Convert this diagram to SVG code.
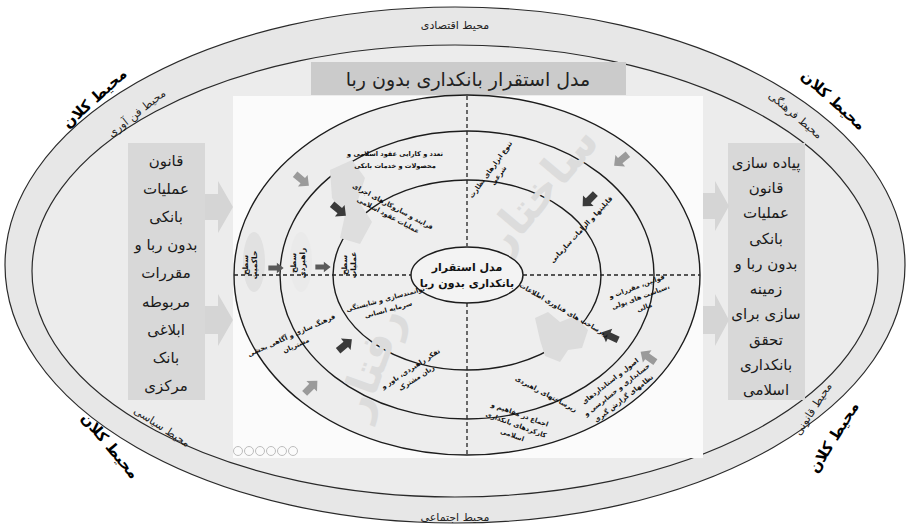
<svg xmlns="http://www.w3.org/2000/svg" width="911" height="529" viewBox="0 0 911 529">
<defs>
<style>
text{font-family:"DejaVu Sans",sans-serif;text-anchor:middle;fill:#111}
.env{font-size:11px;fill:#222}
.macro{font-size:15px;font-weight:bold;fill:#000}
.box{font-size:15px;fill:#1a1a1a}
.s{font-size:6.6px;font-weight:bold}
.lvl{font-size:7.5px;font-weight:bold}
.el{stroke:#1c1c1c;stroke-width:1.4}
.dash{stroke:#222;stroke-width:1.3;stroke-dasharray:4 3;fill:none}
.ad{fill:#3a3a3a}
.al{fill:#9a9a9a}
.am{fill:#5a5a5a}
.wm{font-size:44px;font-weight:bold;fill:#dcdcdc}
</style>
<path id="arr" d="M-9,-3.5 H1 V-7.5 L9,0 L1,7.5 V3.5 H-9 Z"/>
</defs>
<rect width="911" height="529" fill="#ffffff"/>
<g id="macro-ring">
<ellipse cx="455" cy="265" rx="450" ry="258" fill="#e7e7e7" stroke="#2a2a2a" stroke-width="1.2"/>
<ellipse cx="455" cy="271" rx="423" ry="226" fill="#ececec" stroke="#2a2a2a" stroke-width="1.2"/>
<text class="env" x="455" y="29">محیط اقتصادی</text>
<text class="env" x="455" y="521">محیط اجتماعی</text>
<text class="env" transform="translate(139,116) rotate(-38)">محیط فن آوری</text>
<text class="env" transform="translate(793,118) rotate(40)">محیط فرهنگی</text>
<text class="env" transform="translate(160,430) rotate(33)">محیط سیاسی</text>
<text class="env" transform="translate(816,411) rotate(-57)">محیط قانونی</text>
<text class="macro" transform="translate(98,102) rotate(-42)">محیط کلان</text>
<text class="macro" transform="translate(830,104) rotate(42)">محیط کلان</text>
<text class="macro" transform="translate(106,449) rotate(50)">محیط کلان</text>
<text class="macro" transform="translate(838,440) rotate(-58)">محیط کلان</text>
</g>
<g id="title">
<rect x="311" y="62" width="315" height="33" fill="#cbcbcb"/>
<text x="468" y="86" style="font-size:19px;fill:#222">مدل استقرار بانکداری بدون ربا</text>
</g>
<g id="input-box">
<rect x="128" y="143" width="77" height="257" fill="#d8d8d8"/>
<text class="box" x="166" y="166">قانون</text>
<text class="box" x="166" y="194">عملیات</text>
<text class="box" x="166" y="222">بانکی</text>
<text class="box" x="166" y="250">بدون ربا و</text>
<text class="box" x="166" y="278">مقررات</text>
<text class="box" x="166" y="307">مربوطه</text>
<text class="box" x="166" y="335">ابلاغی</text>
<text class="box" x="166" y="363">بانک</text>
<text class="box" x="166" y="391">مرکزی</text>
</g>
<g id="output-box">
<rect x="728" y="143" width="77" height="257" fill="#d8d8d8"/>
<text class="box" x="766" y="168">پیاده سازی</text>
<text class="box" x="766" y="193">قانون</text>
<text class="box" x="766" y="218">عملیات</text>
<text class="box" x="766" y="244">بانکی</text>
<text class="box" x="766" y="269">بدون ربا و</text>
<text class="box" x="766" y="294">زمینه</text>
<text class="box" x="766" y="319">سازی برای</text>
<text class="box" x="766" y="345">تحقق</text>
<text class="box" x="766" y="370">بانکداری</text>
<text class="box" x="766" y="395">اسلامی</text>
</g>
<g id="big-arrows" fill="#d5d5d5">
<polygon points="205,194 218,194 218,181 233,207 218,233 218,220 205,220"/>
<polygon points="205,306 218,306 218,294 233,320 218,346 218,334 205,334"/>
<polygon points="703,193 715,193 715,181 729,206 715,231 715,219 703,219"/>
<polygon points="703,306 715,306 715,294 729,320 715,346 715,334 703,334"/>
</g>
<g id="model">
<rect x="233" y="96" width="470" height="362" fill="#fbfbfb"/>
<ellipse class="el" cx="467" cy="275" rx="233" ry="180" fill="#ededed"/>
<ellipse cx="254" cy="262" rx="11" ry="30" fill="#e1e1e1"/>
<ellipse cx="301" cy="262" rx="11" ry="30" fill="#e3e3e3"/>
<ellipse class="el" cx="467" cy="275" rx="187" ry="144" fill="#efefef" fill-opacity="0.6"/>
<ellipse class="el" cx="467" cy="275" rx="134" ry="95" fill="#eeeeee" fill-opacity="0.6"/>
<text class="wm" transform="translate(552,200) rotate(-50)">ساختار</text>
<text class="wm" transform="translate(385,368) rotate(-70)">رفتار</text>
<path d="M535,318 L548,312 L560,322 L575,316 L588,330 L582,348 L568,350 L560,362 L545,356 L540,340 Z" fill="#dcdcdc"/>
<path d="M330,170 L352,160 L365,178 L358,200 L372,222 L360,244 L340,238 L345,215 L332,198 Z" fill="#dedede"/>
<circle cx="238" cy="451" r="4.5" fill="none" stroke="#bdbdbd"/>
<circle cx="249" cy="451" r="4.5" fill="none" stroke="#bdbdbd"/>
<circle cx="260" cy="451" r="4.5" fill="none" stroke="#bdbdbd"/>
<circle cx="271" cy="451" r="4.5" fill="none" stroke="#bdbdbd"/>
<circle cx="282" cy="451" r="4.5" fill="none" stroke="#bdbdbd"/>
<circle cx="293" cy="451" r="4.5" fill="none" stroke="#bdbdbd"/>
</g>
<g id="connectors">
<line class="dash" x1="467" y1="96" x2="467" y2="246"/>
<line class="dash" x1="467" y1="303" x2="467" y2="455"/>
<line class="dash" x1="234" y1="275" x2="411" y2="275"/>
<line class="dash" x1="523" y1="275" x2="700" y2="275"/>
<use href="#arr" class="am" transform="translate(276,268) scale(0.85,0.7)"/>
<use href="#arr" class="am" transform="translate(323,267) scale(0.85,0.7)"/>
<use href="#arr" class="al" transform="translate(302,180) rotate(40)"/>
<use href="#arr" class="ad" transform="translate(339,210) rotate(40)"/>
<use href="#arr" class="al" transform="translate(621,160) rotate(140)"/>
<use href="#arr" class="ad" transform="translate(589,200) rotate(135)"/>
<use href="#arr" class="ad" transform="translate(345,345) rotate(-40)"/>
<use href="#arr" class="al" transform="translate(311,387) rotate(-45)"/>
<use href="#arr" class="ad" transform="translate(610,336) rotate(-155)"/>
<use href="#arr" class="al" transform="translate(648,357) rotate(-145)"/>
</g>
<g id="core">
<ellipse class="el" cx="467" cy="275" rx="56" ry="28" fill="#f3f3f3"/>
<text x="467" y="271" style="font-size:11px;font-weight:bold">مدل استقرار</text>
<text x="467" y="287" style="font-size:11px;font-weight:bold">بانکداری بدون ربا</text>
</g>
<g id="levels">
<text class="lvl" transform="translate(250,265) rotate(-90)"><tspan x="0" y="-2">سطح</tspan><tspan x="0" y="7">حاکمیت</tspan></text>
<text class="lvl" transform="translate(298,263) rotate(-90)"><tspan x="0" y="-2">سطح</tspan><tspan x="0" y="7">راهبردی</tspan></text>
<text class="lvl" transform="translate(349,265) rotate(-90)"><tspan x="0" y="-2">سطح</tspan><tspan x="0" y="7">عملیات</tspan></text>
</g>
<g id="labels">
<text class="s" x="395" y="156">تعدد و کارایی عقود اسلامی و</text>
<text class="s" x="395" y="168">محصولات و خدمات بانکی</text>
<text class="s" transform="translate(390,212) rotate(28)"><tspan x="0" y="-4">فرایند و سازوکارهای اجرای</tspan><tspan x="0" y="6">عملیات عقود اسلامی</tspan></text>
<text class="s" transform="translate(494,172) rotate(-54)"><tspan x="0" y="-2">تنوع ابزارهای نظارت</tspan><tspan x="0" y="8">شرعی</tspan></text>
<text class="s" transform="translate(583,231) rotate(-47)">قابلیتها و الزامات سازمانی</text>
<text class="s" transform="translate(641,298) rotate(-20)"><tspan x="0" y="-10">قوانین، مقررات و</tspan><tspan x="0" y="1">سیاست های پولی،</tspan><tspan x="0" y="12">مالی</tspan></text>
<text class="s" transform="translate(563,312) rotate(30)">زیرساخت های فناوری اطلاعات</text>
<text class="s" transform="translate(617,390) rotate(-38)"><tspan x="0" y="-9">اصول و استانداردهای</tspan><tspan x="0" y="2">حسابداری و حسابرسی و</tspan><tspan x="0" y="13">نظامهای گزارش گیری</tspan></text>
<text class="s" transform="translate(545,396) rotate(28)">زیرساختهای راهبردی</text>
<text class="s" transform="translate(516,425) rotate(20)"><tspan x="0" y="-9">اجماع در مفاهیم و</tspan><tspan x="0" y="2">کارکردهای بانکداری</tspan><tspan x="0" y="13">اسلامی</tspan></text>
<text class="s" transform="translate(387,305) rotate(-15)"><tspan x="0" y="-4">توانمندسازی و شایستگی</tspan><tspan x="0" y="7">سرمایه انسانی</tspan></text>
<text class="s" transform="translate(294,341) rotate(-24)"><tspan x="0" y="-4">فرهنگ سازی و آگاهی بخشی</tspan><tspan x="0" y="7">مشتریان</tspan></text>
<text class="s" transform="translate(414,374) rotate(-33)"><tspan x="0" y="-4">تفکر راهبردی، باور و</tspan><tspan x="0" y="7">زبان مشترک</tspan></text>
</g>
</svg>
